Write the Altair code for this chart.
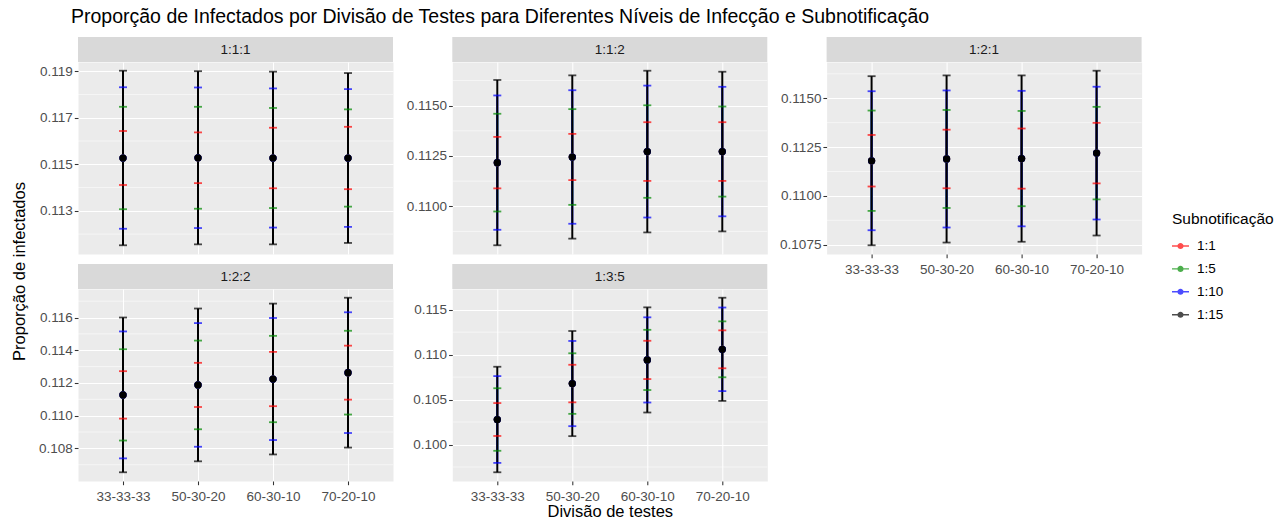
import altair as alt
import pandas as pd

# Categories
divisoes = ["33-33-33", "50-30-20", "60-30-10", "70-20-10"]
niveis = ["1:1:1", "1:1:2", "1:2:1", "1:2:2", "1:3:5"]
subnotificacoes = ["1:1", "1:5", "1:10", "1:15"]
cores = ["#FF0000", "#008B00", "#0000FF", "#000000"]

# Mean proportion of infected per test split, one list per infection level
media_111 = [0.11527, 0.11528, 0.11527, 0.11527]
media_112 = [0.11217, 0.11245, 0.11272, 0.11272]
media_121 = [0.11180, 0.11189, 0.11191, 0.11219]
media_122 = [0.11127, 0.11188, 0.11224, 0.11263]
media_135 = [0.10278, 0.10678, 0.10941, 0.11059]

# Half-width of each interval; rows follow subnotificacoes, columns follow divisoes
amp_111 = [[0.00116, 0.00109, 0.00130, 0.00134],
           [0.00220, 0.00219, 0.00215, 0.00209],
           [0.00304, 0.00302, 0.00299, 0.00296],
           [0.00375, 0.00372, 0.00371, 0.00365]]
amp_112 = [[0.00128, 0.00115, 0.00146, 0.00146],
           [0.00243, 0.00238, 0.00230, 0.00224],
           [0.00334, 0.00332, 0.00328, 0.00322],
           [0.00411, 0.00406, 0.00402, 0.00397]]
amp_121 = [[0.00132, 0.00150, 0.00154, 0.00155],
           [0.00257, 0.00251, 0.00244, 0.00237],
           [0.00356, 0.00351, 0.00347, 0.00340],
           [0.00433, 0.00428, 0.00426, 0.00422]]
amp_122 = [[0.00145, 0.00135, 0.00166, 0.00165],
           [0.00279, 0.00271, 0.00264, 0.00256],
           [0.00388, 0.00378, 0.00373, 0.00369],
           [0.00473, 0.00467, 0.00461, 0.00458]]
amp_135 = [[0.00183, 0.00209, 0.00213, 0.00211],
           [0.00348, 0.00337, 0.00335, 0.00311],
           [0.00483, 0.00474, 0.00474, 0.00465],
           [0.00587, 0.00585, 0.00585, 0.00574]]

# Axis breaks (major and minor) per panel
ticks_111 = [0.113, 0.115, 0.117, 0.119]
minor_111 = [0.112, 0.114, 0.116, 0.118]
ticks_112 = [0.1100, 0.1125, 0.1150]
minor_112 = [0.10875, 0.11125, 0.11375, 0.11625]
ticks_121 = [0.1075, 0.1100, 0.1125, 0.1150]
minor_121 = [0.10875, 0.11125, 0.11375, 0.11625]
ticks_122 = [0.108, 0.110, 0.112, 0.114, 0.116]
minor_122 = [0.107, 0.109, 0.111, 0.113, 0.115, 0.117]
ticks_135 = [0.100, 0.105, 0.110, 0.115]
minor_135 = [0.0975, 0.1025, 0.1075, 0.1125]

W, H = 315, 192
STRIP = 25
FONT = "Liberation Sans"
TXT = 13.5


def tabela(nivel, media, amp):
    linhas = []
    for j, s in enumerate(subnotificacoes):
        for i, dv in enumerate(divisoes):
            linhas.append({
                "nivel": nivel, "divisao": dv, "subnot": s, "ordem": j,
                "media": media[i],
                "lo": media[i] - amp[j][i],
                "hi": media[i] + amp[j][i],
            })
    return pd.DataFrame(linhas)


def painel(nivel, media, amp, ticks, minor, fmt, mostrar_x, titulo_x=None, titulo_y=None):
    d = tabela(nivel, media, amp)
    lo_d, hi_d = d["lo"].min(), d["hi"].max()
    ext = 0.05 * (hi_d - lo_d)
    ys = alt.Scale(domain=[lo_d - ext, hi_d + ext], nice=False, zero=False)
    xs = alt.Scale(type="point", padding=0.6, domain=divisoes)

    y_kw = dict(values=ticks, format=fmt, grid=True, domain=False)
    if titulo_y:
        y_kw.update(title=titulo_y, titleX=-59, titleY=-18, titleAngle=270,
                    titleAlign="center", titleBaseline="middle")
    y_axis = alt.Axis(**y_kw)

    x_kw = dict(grid=True, domain=False, labels=mostrar_x, ticks=mostrar_x,
                labelAngle=0, labelPadding=4.5)
    if titulo_x:
        x_kw.update(title=titulo_x, titlePadding=1)
    x_axis = alt.Axis(**x_kw)

    cor = alt.Color(
        "subnot:N",
        scale=alt.Scale(domain=subnotificacoes, range=cores),
        title="Subnotificação",
    )
    xe = alt.X("divisao:N", scale=xs, axis=x_axis, title=titulo_x if titulo_x else None)

    faixa = alt.Chart(pd.DataFrame({"nivel": [nivel]}))
    fundo = faixa.mark_rect(color="#D9D9D9").encode(
        x=alt.value(0), x2=alt.value(W), y=alt.value(-STRIP), y2=alt.value(0)
    )
    rotulo = faixa.mark_text(font=FONT, fontSize=TXT, color="#1A1A1A").encode(
        text="nivel:N", x=alt.value(W / 2), y=alt.value(-STRIP / 2)
    )
    ytit = titulo_y if titulo_y else None
    grade = alt.Chart(pd.DataFrame({"v": minor})).mark_rule(
        color="white", strokeWidth=0.55
    ).encode(y=alt.Y("v:Q", scale=ys, axis=y_axis, title=ytit))

    base = alt.Chart(d)
    barras = base.mark_rule(strokeWidth=2).encode(
        x=xe, y=alt.Y("lo:Q", scale=ys, axis=y_axis, title=ytit), y2="hi:Q",
        color=cor, order="ordem:Q",
    )
    cap_lo = base.mark_tick(size=8, thickness=1.8).encode(
        x=xe, y=alt.Y("lo:Q", scale=ys, axis=y_axis, title=ytit), color=cor, order="ordem:Q",
    )
    cap_hi = base.mark_tick(size=8, thickness=1.8).encode(
        x=xe, y=alt.Y("hi:Q", scale=ys, axis=y_axis, title=ytit), color=cor, order="ordem:Q",
    )
    pontos = base.mark_circle(size=52, opacity=1).encode(
        x=xe, y=alt.Y("media:Q", scale=ys, axis=y_axis, title=ytit), color=cor, order="ordem:Q",
    )
    return alt.layer(fundo, rotulo, grade, barras, cap_lo, cap_hi, pontos).properties(
        width=W, height=H
    )


p1 = painel("1:1:1", media_111, amp_111, ticks_111, minor_111, ".3f", False)
p2 = painel("1:1:2", media_112, amp_112, ticks_112, minor_112, ".4f", False)
p3 = painel("1:2:1", media_121, amp_121, ticks_121, minor_121, ".4f", True)
p4 = painel("1:2:2", media_122, amp_122, ticks_122, minor_122, ".3f", True,
            titulo_y="Proporção de infectados")
p5 = painel("1:3:5", media_135, amp_135, ticks_135, minor_135, ".3f", True,
            titulo_x="Divisão de testes")

simbolo = ("M-1,-0.08H1V0.08H-1Z "
           "M0.36,0A0.36,0.36,0,1,1,-0.36,0A0.36,0.36,0,1,1,0.36,0Z")

chart = alt.concat(
    p1, p2, p3, p4, p5, columns=3,
    spacing={"row": 35, "column": 59.3}, bounds="flush",
).properties(
    title=alt.TitleParams(
        "Proporção de Infectados por Divisão de Testes para Diferentes Níveis de Infecção e Subnotificação",
        anchor="start", frame="group", dx=-7, offset=9,
        font=FONT, fontSize=19.5, fontWeight="normal", color="#000000",
    ),
    padding={"left": 10, "top": 7, "right": 0, "bottom": 0},
).configure_view(
    fill="#EBEBEB", stroke="transparent"
).configure_axis(
    labelFont=FONT, labelFontSize=TXT, labelColor="#4D4D4D",
    titleFont=FONT, titleFontSize=16.5, titleColor="#000000", titleFontWeight="normal",
    tickColor="#333333", tickSize=3.7, tickWidth=1.07, labelPadding=2,
    gridColor="#FFFFFF", gridWidth=1.07,
).configure_legend(
    orient="none", legendX=1094, legendY=150,
    titleFont=FONT, titleFontSize=15.5, titleColor="#000000", titleFontWeight="normal",
    labelFont=FONT, labelFontSize=TXT, labelColor="#000000",
    symbolType=simbolo, symbolSize=289, symbolStrokeWidth=0, rowPadding=7.9,
    titlePadding=10, labelOffset=8,
)

chart.save("out.html", embed_options={"renderer": "svg", "actions": False})
